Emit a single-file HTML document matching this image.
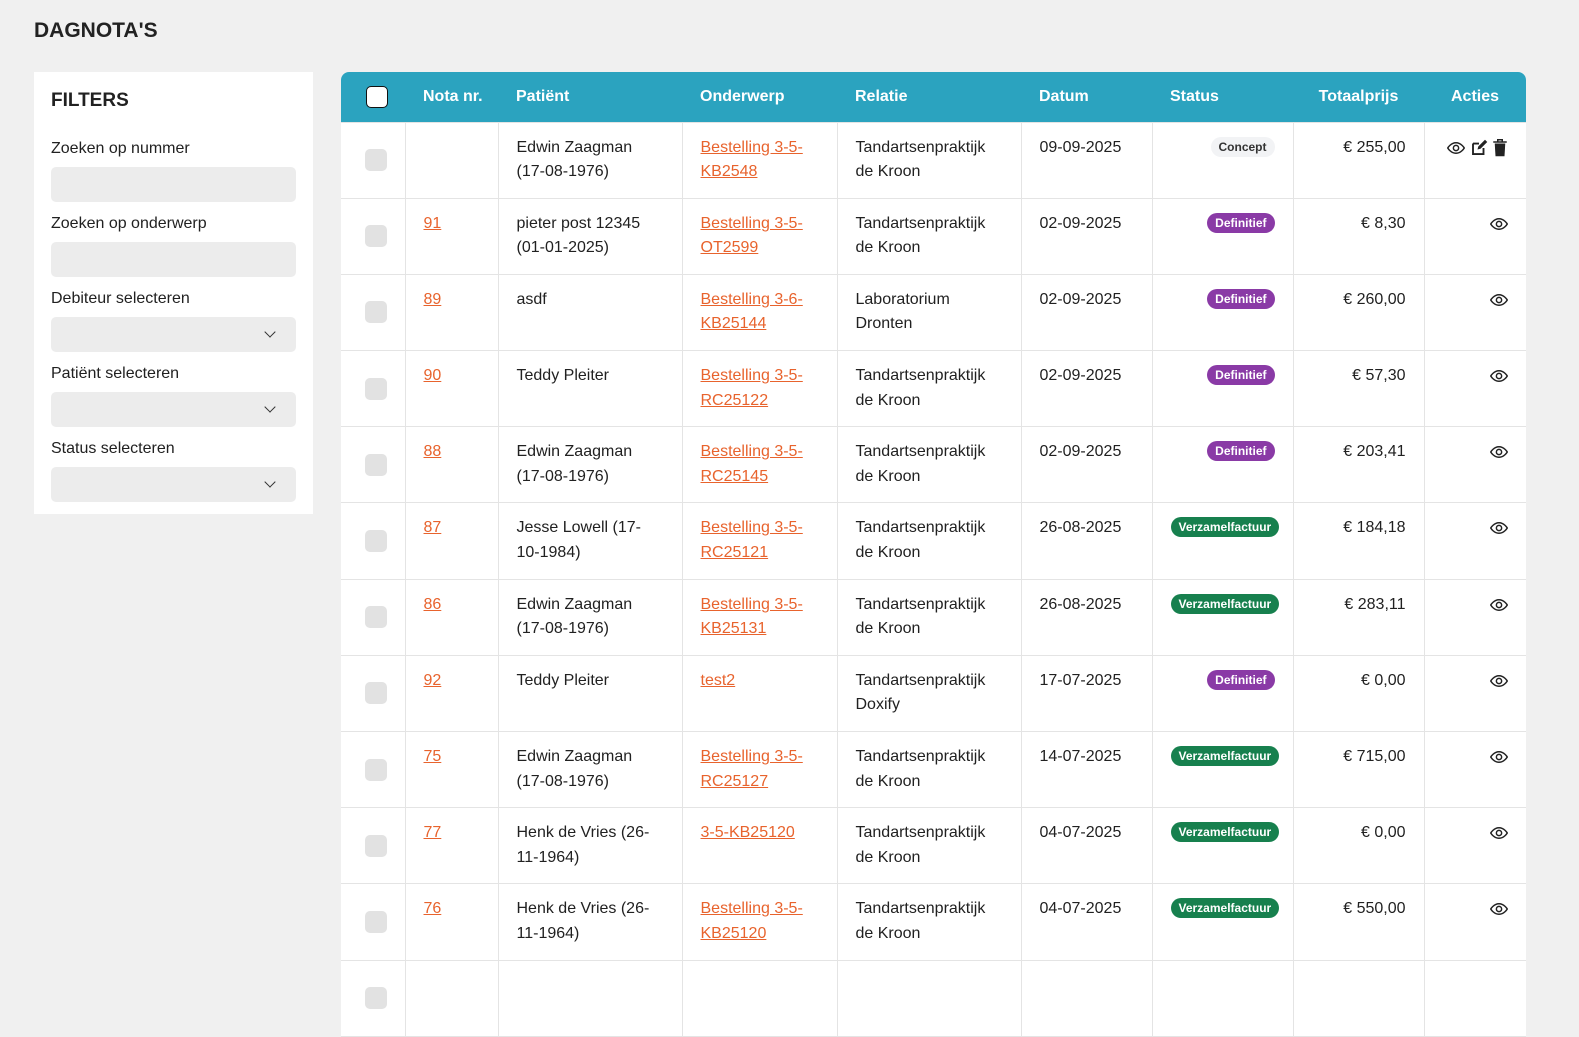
<!DOCTYPE html>
<html><head><meta charset="utf-8"><style>
*{box-sizing:border-box}
body{margin:0;width:1579px;height:975px;background:#f0f0f0;font-family:"Liberation Sans",sans-serif;color:#212121;overflow:hidden;position:relative}
h1{position:absolute;left:34px;top:19px;margin:0;font-size:21px;font-weight:bold;color:#222}
.side{position:absolute;left:34px;top:72px;width:279px;height:442px;background:#fff;padding:0 17px}
.side h2{margin:18px 0 0;font-size:19px;font-weight:bold;height:24px}
.side label{display:block;font-size:16px;margin-top:13px;height:22px}
.side h2+label{margin-top:26px}
.side .in{height:35px;background:#ececec;border-radius:5px;margin-top:5px;position:relative}
.side .in.sel:after{content:"";position:absolute;right:22px;top:11px;width:7px;height:7px;border-right:1.6px solid #333;border-bottom:1.6px solid #333;transform:rotate(45deg)}
.tbl{position:absolute;left:341px;top:72px;width:1185px;background:#fff;border-radius:8px 8px 0 0;overflow:hidden}
table{border-collapse:collapse;width:1185px;table-layout:fixed;font-size:16px}
th{background:#2ba3bf;color:#fff;height:50px;text-align:left;font-weight:bold;padding:0 18px;font-size:16px;white-space:nowrap}
td{border:1px solid #e4e4e4;height:76.2px;vertical-align:top;padding:13px 18px 0;line-height:24.5px}
tr td:first-child{border-left:none;vertical-align:middle;padding:0 0 0 24px}
tr td:last-child{border-right:none}
a{color:#e8632d;text-decoration:underline}
.cb{width:22px;height:22px;border-radius:5px;background:#e2e2e2}
.hcb{width:22px;height:22px;border-radius:5px;background:#fff;border:1.5px solid #111;margin-left:7px}
.r{text-align:right}
.b{display:inline-block;font-size:12px;font-weight:bold;border-radius:10px;padding:0 8px;line-height:20px;color:#fff;vertical-align:top;margin-top:1px}
.c{background:#f2f3f5;color:#333}.d{background:#8a3aa6}.v{background:#17804e}
svg{vertical-align:top;margin-top:3px}
</style></head><body>
<h1>DAGNOTA'S</h1>
<div class="side">
<h2>FILTERS</h2>
<label>Zoeken op nummer</label><div class="in"></div>
<label>Zoeken op onderwerp</label><div class="in"></div>
<label>Debiteur selecteren</label><div class="in sel"></div>
<label>Patiënt selecteren</label><div class="in sel"></div>
<label>Status selecteren</label><div class="in sel"></div>
</div>
<div class="tbl"><table>
<colgroup><col style="width:64px"><col style="width:93px"><col style="width:184px"><col style="width:155px"><col style="width:184px"><col style="width:131px"><col style="width:141px"><col style="width:131px"><col style="width:102px"></colgroup>
<tr><th style="padding-left:18px"><div class="hcb"></div></th><th>Nota nr.</th><th>Patiënt</th><th>Onderwerp</th><th>Relatie</th><th>Datum</th><th>Status</th><th class="r" style="text-align:center">Totaalprijs</th><th style="text-align:center">Acties</th></tr>
<tr><td><div class="cb"></div></td><td></td><td>Edwin Zaagman (17-08-1976)</td><td><a>Bestelling 3-5-KB2548</a></td><td>Tandartsenpraktijk de Kroon</td><td>09-09-2025</td><td class="r"><span class="b c">Concept</span></td><td class="r">€ 255,00</td><td class="r"><svg width="18" height="18" viewBox="0 0 24 24"><path d="M1 12s4-7 11-7 11 7 11 7-4 7-11 7S1 12 1 12z" fill="none" stroke="#222" stroke-width="2"/><circle cx="12" cy="12" r="3.5" fill="none" stroke="#222" stroke-width="2"/></svg> <svg width="18" height="18" viewBox="0 0 24 24"><path d="M4 6h8M4 6v14h14v-8" fill="none" stroke="#222" stroke-width="2.5"/><path d="M10 14l1-4 9-9 3 3-9 9z" fill="#222"/></svg> <svg width="16" height="18" viewBox="0 0 20 24"><path d="M1 4h18M7 4V1h6v3" fill="none" stroke="#222" stroke-width="2"/><path d="M3 6h14l-1 17H4z" fill="#222"/></svg></td></tr>
<tr><td><div class="cb"></div></td><td><a>91</a></td><td>pieter post 12345 (01-01-2025)</td><td><a>Bestelling 3-5-OT2599</a></td><td>Tandartsenpraktijk de Kroon</td><td>02-09-2025</td><td class="r"><span class="b d">Definitief</span></td><td class="r">€ 8,30</td><td class="r">EYE</td></tr>
<tr><td><div class="cb"></div></td><td><a>89</a></td><td>asdf</td><td><a>Bestelling 3-6-KB25144</a></td><td>Laboratorium Dronten</td><td>02-09-2025</td><td class="r"><span class="b d">Definitief</span></td><td class="r">€ 260,00</td><td class="r">EYE</td></tr>
<tr><td><div class="cb"></div></td><td><a>90</a></td><td>Teddy Pleiter</td><td><a>Bestelling 3-5-RC25122</a></td><td>Tandartsenpraktijk de Kroon</td><td>02-09-2025</td><td class="r"><span class="b d">Definitief</span></td><td class="r">€ 57,30</td><td class="r">EYE</td></tr>
<tr><td><div class="cb"></div></td><td><a>88</a></td><td>Edwin Zaagman (17-08-1976)</td><td><a>Bestelling 3-5-RC25145</a></td><td>Tandartsenpraktijk de Kroon</td><td>02-09-2025</td><td class="r"><span class="b d">Definitief</span></td><td class="r">€ 203,41</td><td class="r">EYE</td></tr>
<tr><td><div class="cb"></div></td><td><a>87</a></td><td>Jesse Lowell (17-10-1984)</td><td><a>Bestelling 3-5-RC25121</a></td><td>Tandartsenpraktijk de Kroon</td><td>26-08-2025</td><td class="r"><span class="b v">Verzamelfactuur</span></td><td class="r">€ 184,18</td><td class="r">EYE</td></tr>
<tr><td><div class="cb"></div></td><td><a>86</a></td><td>Edwin Zaagman (17-08-1976)</td><td><a>Bestelling 3-5-KB25131</a></td><td>Tandartsenpraktijk de Kroon</td><td>26-08-2025</td><td class="r"><span class="b v">Verzamelfactuur</span></td><td class="r">€ 283,11</td><td class="r">EYE</td></tr>
<tr><td><div class="cb"></div></td><td><a>92</a></td><td>Teddy Pleiter</td><td><a>test2</a></td><td>Tandartsenpraktijk Doxify</td><td>17-07-2025</td><td class="r"><span class="b d">Definitief</span></td><td class="r">€ 0,00</td><td class="r">EYE</td></tr>
<tr><td><div class="cb"></div></td><td><a>75</a></td><td>Edwin Zaagman (17-08-1976)</td><td><a>Bestelling 3-5-RC25127</a></td><td>Tandartsenpraktijk de Kroon</td><td>14-07-2025</td><td class="r"><span class="b v">Verzamelfactuur</span></td><td class="r">€ 715,00</td><td class="r">EYE</td></tr>
<tr><td><div class="cb"></div></td><td><a>77</a></td><td>Henk de Vries (26-11-1964)</td><td><a>3-5-KB25120</a></td><td>Tandartsenpraktijk de Kroon</td><td>04-07-2025</td><td class="r"><span class="b v">Verzamelfactuur</span></td><td class="r">€ 0,00</td><td class="r">EYE</td></tr>
<tr><td><div class="cb"></div></td><td><a>76</a></td><td>Henk de Vries (26-11-1964)</td><td><a>Bestelling 3-5-KB25120</a></td><td>Tandartsenpraktijk de Kroon</td><td>04-07-2025</td><td class="r"><span class="b v">Verzamelfactuur</span></td><td class="r">€ 550,00</td><td class="r">EYE</td></tr>
<tr><td><div class="cb"></div></td><td></td><td></td><td></td><td></td><td></td><td></td><td></td><td></td></tr>
</table></div>
<script>
document.querySelectorAll('td').forEach(function(t){if(t.textContent==='EYE')t.innerHTML='<svg width="18" height="18" viewBox="0 0 24 24"><path d="M1 12s4-7 11-7 11 7 11 7-4 7-11 7S1 12 1 12z" fill="none" stroke="#222" stroke-width="2"/><circle cx="12" cy="12" r="3.5" fill="none" stroke="#222" stroke-width="2"/></svg>';});
</script>
</body></html>
